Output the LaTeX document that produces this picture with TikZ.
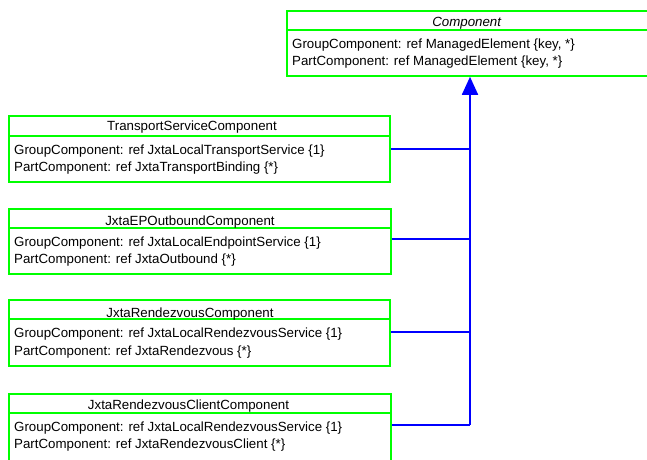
\documentclass[tikz,border=0pt]{standalone}
\usepackage{fontspec}
\setmainfont{Liberation Sans}
\usetikzlibrary{arrows.meta}
\begin{document}
\begin{tikzpicture}[x=1pt,y=1pt,
  umlbox/.style={draw=green!100, line width=1.8pt, inner sep=0pt, anchor=north west},
  sepline/.style={draw=green!100, line width=1.8pt},
  attr/.style={anchor=base west, inner sep=0pt, font=\fontsize{13.3}{15}\selectfont},
  ttl/.style={anchor=base, inner sep=0pt, font=\fontsize{13.3}{15}\selectfont},
  link/.style={draw=blue, line width=1.8pt},
  inherit/.style={draw=blue, line width=1.8pt, -{Triangle[length=18pt,width=16pt]}}]
\useasboundingbox (0,0) rectangle (647,459);
\clip (0,0) rectangle (647,459);
% Component
\node[umlbox, minimum width=363pt, minimum height=65pt] (comp) at (286,449) {};
\coordinate (cs) at (0,429);
\draw[sepline] (comp.west |- cs) -- (comp.east |- cs);
\node[ttl, font=\fontsize{13.3}{15}\selectfont\itshape] (compt) at (466.7,432.3) {Component};
\node[attr] (comp1) at (292,410.7) {GroupComponent: ref ManagedElement \{key, *\}};
\node[attr] (comp2) at (292,393.3) {PartComponent: ref ManagedElement \{key, *\}};
% Transport
\node[umlbox, minimum width=381pt, minimum height=66pt] (ts) at (8,344) {};
\coordinate (tss) at (0,323);
\draw[sepline] (ts.west |- tss) -- (ts.east |- tss);
\node[ttl] (tst) at (192,329) {TransportServiceComponent};
\node[attr] (ts1) at (14,304.7) {GroupComponent: ref JxtaLocalTransportService \{1\}};
\node[attr] (ts2) at (14,287.3) {PartComponent: ref JxtaTransportBinding \{*\}};
% EP Outbound
\node[umlbox, minimum width=382pt, minimum height=65pt] (ep) at (8,251) {};
\coordinate (eps) at (0,231);
\draw[sepline] (ep.west |- eps) -- (ep.east |- eps);
\node[ttl] (ept) at (190,234) {JxtaEPOutboundComponent};
\node[attr] (ep1) at (14,212.5) {GroupComponent: ref JxtaLocalEndpointService \{1\}};
\node[attr] (ep2) at (14,195.1) {PartComponent: ref JxtaOutbound \{*\}};
% Rendezvous
\node[umlbox, minimum width=381pt, minimum height=66pt] (rv) at (8,160) {};
\coordinate (rvs) at (0,140);
\draw[sepline] (rv.west |- rvs) -- (rv.east |- rvs);
\node[ttl] (rvt) at (190,141.7) {JxtaRendezvousComponent};
\node[attr] (rv1) at (14,121.3) {GroupComponent: ref JxtaLocalRendezvousService \{1\}};
\node[attr] (rv2) at (14,103.9) {PartComponent: ref JxtaRendezvous \{*\}};
% Rendezvous client
\node[umlbox, minimum width=382pt, minimum height=85pt] (rc) at (8,66) {};
\coordinate (rcs) at (0,46);
\draw[sepline] (rc.west |- rcs) -- (rc.east |- rcs);
\node[ttl] (rct) at (188.5,49.7) {JxtaRendezvousClientComponent};
\node[attr] (rc1) at (14,27.7) {GroupComponent: ref JxtaLocalRendezvousService \{1\}};
\node[attr] (rc2) at (14,10.3) {PartComponent: ref JxtaRendezvousClient \{*\}};
% connectors
\coordinate (j1) at (470,310);
\coordinate (j2) at (470,220);
\coordinate (j3) at (470,127);
\coordinate (j4) at (470,34);
\draw[link] (ts.east |- j1) -- (j1);
\draw[link] (ep.east |- j2) -- (j2);
\draw[link] (rv.east |- j3) -- (j3);
\draw[link] (rc.east |- j4) -- (j4);
\draw[inherit] (j4) -- (j4 |- comp.south);
\end{tikzpicture}
\end{document}
